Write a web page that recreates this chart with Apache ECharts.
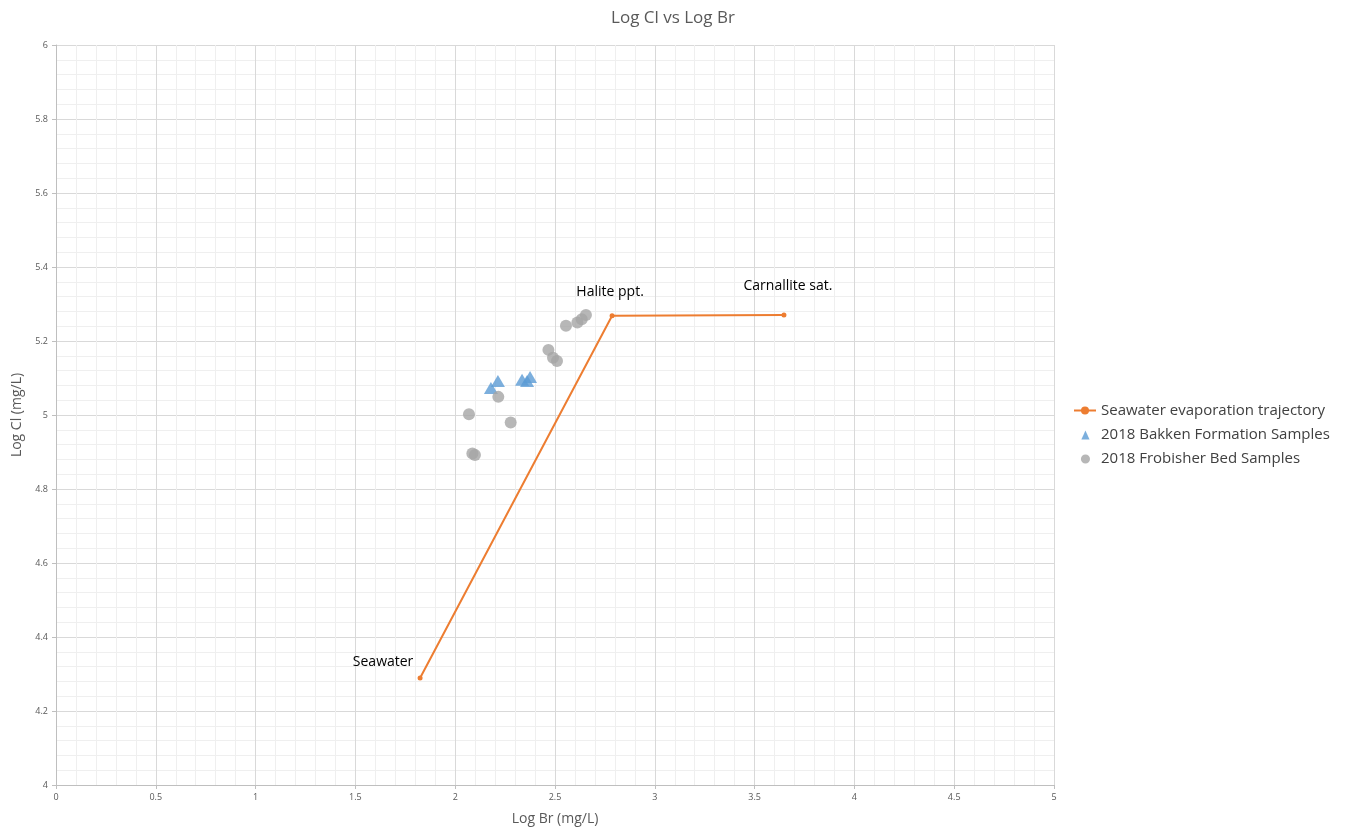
<!DOCTYPE html>
<html><head><meta charset="utf-8">
<script src="https://cdn.jsdelivr.net/npm/echarts@6/dist/echarts.min.js"></script>
<style>html,body{margin:0;padding:0;background:#fff}#c{width:1346px;height:828px}</style>
</head><body><div id="c"></div>
<script>
const trajectoryNames = ["Seawater", "Halite ppt.", "Carnallite sat."];
const trajectoryBr = [1.824, 2.786, 3.647];
const trajectoryCl = [4.289, 5.268, 5.270];
const bakkenBr = [2.179, 2.214, 2.335, 2.375, 2.360];
const bakkenCl = [5.073, 5.092, 5.095, 5.103, 5.092];
const frobisherBr = [2.069, 2.216, 2.278, 2.086, 2.099, 2.467, 2.490, 2.510, 2.555, 2.612, 2.634, 2.655];
const frobisherCl = [5.002, 5.049, 4.980, 4.896, 4.892, 5.176, 5.155, 5.146, 5.241, 5.250, 5.259, 5.270];
const labelOffsets = [[-37, -16], [-2, -24], [4, -29]];

const font = "'Open Sans', 'Liberation Sans', sans-serif";
const chart = echarts.init(document.getElementById('c'));
chart.setOption({
  animation: false,
  backgroundColor: '#fff',
  textStyle: { fontFamily: font },
  title: { text: 'Log Cl vs Log Br', left: 'center', top: 5,
    textStyle: { fontSize: 17, fontWeight: 'normal', color: '#595959', fontFamily: font } },
  legend: {
    orient: 'vertical', left: 1068, top: 398, itemGap: 9, itemWidth: 22, itemHeight: 10,
    textStyle: { fontSize: 15, color: '#404040', fontFamily: font },
    data: [
      { name: 'Seawater evaporation trajectory' },
      { name: '2018 Bakken Formation Samples', icon: 'path://M-1 0 M23 11 M7 11 L11.5 1 L16 11 Z' },
      { name: '2018 Frobisher Bed Samples', icon: 'path://M-1 0 M23 11 M6.5 6 A5 5 0 1 1 16.5 6 A5 5 0 1 1 6.5 6 Z' }
    ]
  },
  grid: { left: 56, right: 292, top: 45, bottom: 43, containLabel: false, outerBoundsMode: 'none' },
  xAxis: {
    type: 'value', min: 0, max: 5, interval: 0.5,
    name: 'Log Br (mg/L)', nameLocation: 'middle', nameGap: 27,
    nameTextStyle: { fontSize: 14, color: '#595959' },
    axisLine: { show: true, lineStyle: { color: '#bfbfbf' } },
    axisTick: { show: true, length: 4, lineStyle: { color: '#bfbfbf' } },
    axisLabel: { fontSize: 9, color: '#595959', margin: 8 },
    splitLine: { show: true, lineStyle: { color: '#d9d9d9' } },
    minorTick: { show: false, splitNumber: 5 },
    minorSplitLine: { show: true, lineStyle: { color: '#efefef' } }
  },
  yAxis: {
    type: 'value', min: 4, max: 6, interval: 0.2,
    name: 'Log Cl (mg/L)', nameLocation: 'middle', nameGap: 28, nameRotate: 90,
    nameTextStyle: { fontSize: 14, color: '#595959' },
    axisLine: { show: true, lineStyle: { color: '#bfbfbf' } },
    axisTick: { show: true, length: 4, lineStyle: { color: '#bfbfbf' } },
    axisLabel: { fontSize: 9, color: '#595959', margin: 8,
      formatter: v => String(Math.round(v * 10) / 10) },
    splitLine: { show: true, lineStyle: { color: '#d9d9d9' } },
    minorTick: { show: false, splitNumber: 5 },
    minorSplitLine: { show: true, lineStyle: { color: '#efefef' } }
  },
  series: [
    {
      name: 'Seawater evaporation trajectory', type: 'line',
      data: trajectoryBr.map((x, i) => ({
        value: [x, trajectoryCl[i]],
        label: { show: true, formatter: trajectoryNames[i], offset: labelOffsets[i] }
      })),
      symbol: 'circle', symbolSize: 5,
      lineStyle: { color: '#ED7D31', width: 2 },
      itemStyle: { color: '#ED7D31' },
      label: { position: 'inside', fontSize: 14, color: '#000', fontFamily: font },
      z: 3
    },
    {
      name: '2018 Bakken Formation Samples', type: 'scatter',
      data: bakkenBr.map((x, i) => [x, bakkenCl[i]]),
      symbol: 'triangle', symbolSize: [14, 12],
      itemStyle: { color: '#5B9BD5' }, z: 4
    },
    {
      name: '2018 Frobisher Bed Samples', type: 'scatter',
      data: frobisherBr.map((x, i) => [x, frobisherCl[i]]),
      symbol: 'circle', symbolSize: 12,
      itemStyle: { color: '#A5A5A5' }, z: 4
    }
  ]
});
</script></body></html>
